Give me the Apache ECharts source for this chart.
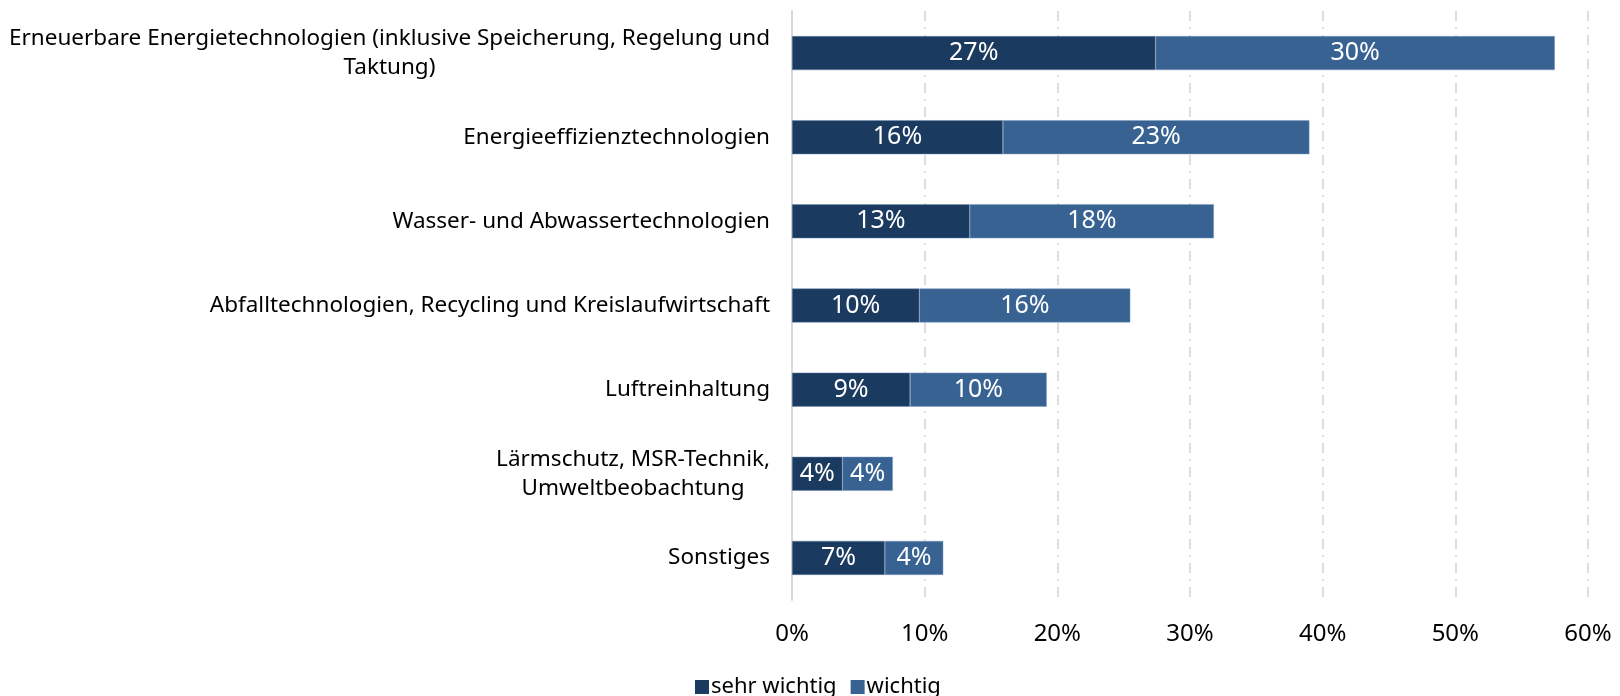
<!DOCTYPE html>
<html>
<head>
<meta charset="utf-8">
<script src="https://cdn.jsdelivr.net/npm/echarts@6/dist/echarts.min.js"></script>
<style>
  html, body { margin: 0; padding: 0; background: #fff; }
  #chart { width: 1620px; height: 696px; }
</style>
</head>
<body>
<div id="chart"></div>
<script>
const categories = [
  'Erneuerbare Energietechnologien (inklusive Speicherung, Regelung und\nTaktung)',
  'Energieeffizienztechnologien',
  'Wasser- und Abwassertechnologien',
  'Abfalltechnologien, Recycling und Kreislaufwirtschaft',
  'Luftreinhaltung',
  'Lärmschutz, MSR-Technik,\nUmweltbeobachtung',
  'Sonstiges'
];
const sehrWichtig = [27.4, 15.9, 13.4, 9.6, 8.9, 3.8, 7.0];
const wichtig = [30.1, 23.1, 18.4, 15.9, 10.3, 3.8, 4.4];
const xTicks = [0, 10, 20, 30, 40, 50, 60];

const chart = echarts.init(document.getElementById('chart'));

const barLabel = {
  show: true,
  position: 'inside',
  color: '#fff',
  fontSize: 25,
  fontFamily: 'Noto Sans',
  formatter: p => Math.round(p.value) + '%'
};

// wrapped labels: lines centred on each other, block right-aligned to the axis
const centerLines = name => name.split('\n').map(l => '{c|' + l + '}').join('\n');

const option = {
  animation: false,
  textStyle: { fontFamily: 'Noto Sans' },
  grid: { left: 792, right: 32, top: 11, bottom: 96 },
  legend: {
    left: 690,
    top: 671,
    itemWidth: 14,
    itemHeight: 14,
    itemGap: 14,
    icon: 'rect',
    itemStyle: { borderWidth: 0 },
    textStyle: { fontSize: 22, color: '#000', padding: [0, 0, 0, -3] },
    data: ['sehr wichtig', 'wichtig']
  },
  xAxis: {
    type: 'value',
    min: xTicks[0],
    max: xTicks[xTicks.length - 1],
    interval: 10,
    axisLine: { show: false },
    axisTick: { show: false },
    axisLabel: { fontSize: 24, color: '#000', margin: 22, formatter: '{value}%' },
    splitLine: {
      show: true,
      lineStyle: { color: '#d4d4d4', width: 1.5, type: [10, 6, 2, 6] }
    }
  },
  yAxis: {
    type: 'category',
    inverse: true,
    data: categories,
    axisLine: { show: true, lineStyle: { color: '#d9d9d9', width: 2 } },
    axisTick: { show: false },
    axisLabel: {
      fontSize: 22.5,
      color: '#000',
      margin: 22,
      lineHeight: 29,
      align: 'right',
      formatter: centerLines,
      rich: {
        c: { fontSize: 22.5, color: '#000', lineHeight: 29, align: 'center' }
      }
    }
  },
  series: [
    {
      name: 'sehr wichtig',
      type: 'bar',
      stack: 'total',
      barWidth: 34,
      data: sehrWichtig,
      itemStyle: { color: '#1b3a5f', borderColor: '#6d8bb0', borderWidth: 0.5 },
      label: barLabel
    },
    {
      name: 'wichtig',
      type: 'bar',
      stack: 'total',
      barWidth: 34,
      data: wichtig,
      itemStyle: { color: '#376292', borderColor: '#7f9cc0', borderWidth: 0.5 },
      label: barLabel
    }
  ]
};

chart.setOption(option);
</script>
</body>
</html>
